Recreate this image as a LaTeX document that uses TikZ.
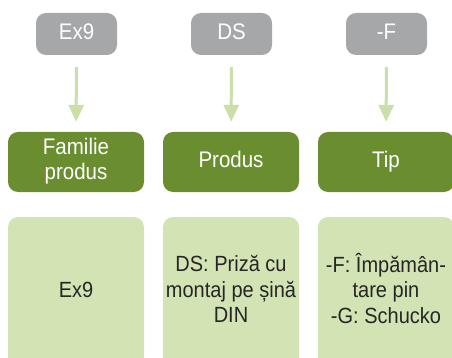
\documentclass[tikz,border=0pt]{standalone}
\usepackage{fontspec}
\usepackage{graphicx}
\setmainfont{Liberation Sans}
\usetikzlibrary{arrows.meta}
\definecolor{graybox}{HTML}{A6A7A9}
\definecolor{darkgreen}{HTML}{6A8E2F}
\definecolor{lightgreen}{HTML}{D2E4B4}
\definecolor{arrowgreen}{HTML}{CADFA9}
\definecolor{txt}{HTML}{262626}
\newcommand{\vst}[1]{\scalebox{1}[1.1]{\begin{tabular}{@{}c@{}}#1\end{tabular}}}
\begin{document}
\begin{tikzpicture}[x=1pt,y=-1pt,
  codebox/.style={fill=graybox, rounded corners=10pt, minimum width=81pt, minimum height=42pt, text=white, font=\fontsize{20.5}{23}\selectfont, inner sep=0pt},
  catbox/.style={fill=darkgreen, rounded corners=10pt, minimum width=136pt, minimum height=60pt, text=white, font=\fontsize{20.5}{23}\selectfont, inner sep=0pt},
  descbox/.style={fill=lightgreen, rounded corners=10pt, minimum width=136pt, minimum height=150pt, text=txt, font=\fontsize{20}{23}\selectfont, inner sep=0pt},
  conn/.style={draw=arrowgreen, line width=3pt, -{Triangle[length=17pt,width=15pt]}, shorten <=12pt, shorten >=10pt}]
\useasboundingbox (0,0) rectangle (452,358);
\clip (0,0) rectangle (452,358);
\node[codebox] (g1) at (76.5,34) {\vst{Ex9}};
\node[codebox] (g2) at (231.5,34) {\vst{DS}};
\node[codebox] (g3) at (386.5,34) {\vst{-F}};
\node[catbox] (c1) at (76,162) {\vst{Familie\\produs}};
\node[catbox] (c2) at (231,162) {\vst{Produs}};
\node[catbox] (c3) at (386,162) {\vst{Tip}};
\node[descbox] (d1) at (76,292) {\vst{Ex9}};
\node[descbox] (d2) at (231,292) {\vst{DS: Priză cu\\montaj pe șină\\DIN}};
\node[descbox] (d3) at (386,292) {\vst{-F: Împămân-\\tare pin\\-G: Schucko}};
\draw[conn] (g1) -- (c1);
\draw[conn] (g2) -- (c2);
\draw[conn] (g3) -- (c3);
\end{tikzpicture}
\end{document}
